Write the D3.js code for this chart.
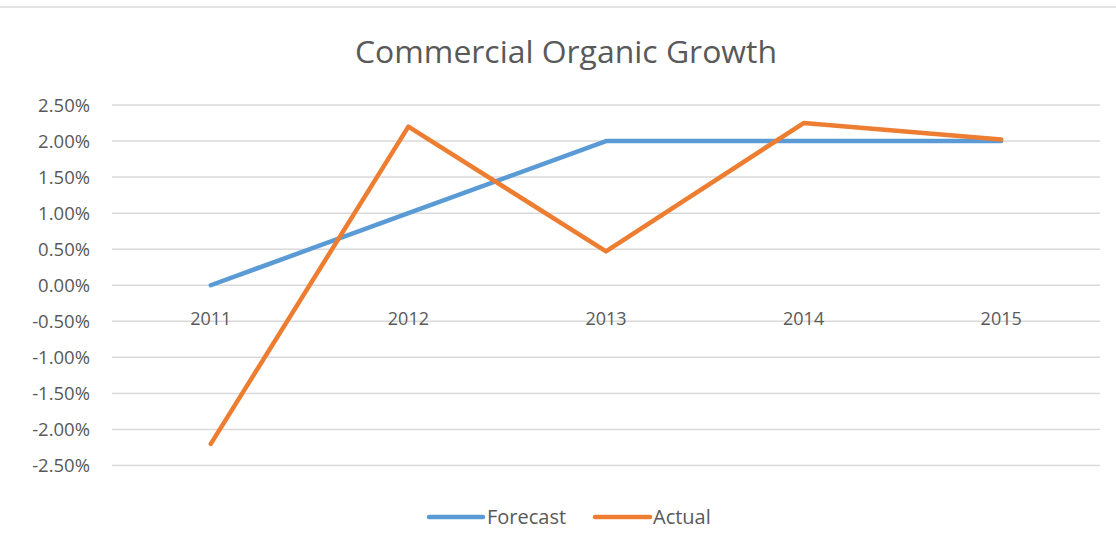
<!DOCTYPE html>
<html><head><meta charset="utf-8">
<script src="https://cdn.jsdelivr.net/npm/d3@7"></script>
<style>body{margin:0;background:#fff;} text{font-family:"Open Sans",sans-serif;}</style>
</head><body>
<svg id="chart" width="1116" height="544"></svg>
<script>
const title = "Commercial Organic Growth";
const categories = ["2011", "2012", "2013", "2014", "2015"];
const forecast = [0.0, 1.0, 2.0, 2.0, 2.0];
const actual = [-2.2, 2.2, 0.47, 2.25, 2.02];
const yTicks = [2.5, 2.0, 1.5, 1.0, 0.5, 0.0, -0.5, -1.0, -1.5, -2.0, -2.5];
const seriesNames = ["Forecast", "Actual"];
const colors = ["#5B9BD5", "#ED7D31"];

const svg = d3.select("#chart");
const x = d3.scaleBand().domain(categories).range([112, 1100]);
const y = d3.scaleLinear().domain([-2.5, 2.5]).range([465.5, 105]);

// top border
svg.append("line").attr("x1", 0).attr("x2", 1116).attr("y1", 7).attr("y2", 7)
  .attr("stroke", "#e3e3e3").attr("stroke-width", 2);

// title
svg.append("text").attr("x", 566).attr("y", 63).attr("text-anchor", "middle")
  .attr("font-size", 31).attr("fill", "#595959")
  .attr("textLength", 422).attr("lengthAdjust", "spacingAndGlyphs").text(title);

// gridlines
svg.append("g").selectAll("line").data(yTicks).join("line")
  .attr("x1", 112).attr("x2", 1100)
  .attr("y1", d => y(d)).attr("y2", d => y(d))
  .attr("stroke", "#d9d9d9").attr("stroke-width", 1.5);

// y axis labels
const yAxis = d3.axisLeft(y).tickValues(yTicks).tickSize(0).tickPadding(0)
  .tickFormat(d => d3.format(".2f")(d).replace("\u2212", "-") + "%");
const gy = svg.append("g").attr("transform", "translate(90,0)").call(yAxis);
gy.select(".domain").remove();
gy.selectAll("text").attr("font-family", "Open Sans").attr("font-size", 18.5)
  .attr("fill", "#595959").attr("dy", "0.35em");

// x axis labels (below zero line)
const xAxis = d3.axisBottom(x).tickSize(0).tickPadding(0);
const gx = svg.append("g").attr("transform", `translate(0,${y(0)})`).call(xAxis);
gx.select(".domain").remove();
gx.selectAll("text").attr("font-family", "Open Sans").attr("font-size", 18)
  .attr("fill", "#595959").attr("dy", "0").attr("y", 40);

// lines
const line = d3.line().x((d, i) => x(categories[i]) + x.bandwidth() / 2).y(d => y(d));
[forecast, actual].forEach((s, i) => {
  svg.append("path").datum(s).attr("d", line).attr("fill", "none")
    .attr("stroke", colors[i]).attr("stroke-width", 4.5)
    .attr("stroke-linejoin", "round").attr("stroke-linecap", "round");
});

// legend
const legendItems = [
  {name: seriesNames[0], color: colors[0], x1: 429, x2: 483, tx: 487},
  {name: seriesNames[1], color: colors[1], x1: 595, x2: 650, tx: 653}
];
const lg = svg.append("g");
legendItems.forEach(it => {
  lg.append("line").attr("x1", it.x1).attr("x2", it.x2).attr("y1", 517).attr("y2", 517)
    .attr("stroke", it.color).attr("stroke-width", 4.5).attr("stroke-linecap", "round");
  lg.append("text").attr("x", it.tx).attr("y", 524).attr("font-size", 20)
    .attr("fill", "#595959").text(it.name);
});
</script>
</body></html>
